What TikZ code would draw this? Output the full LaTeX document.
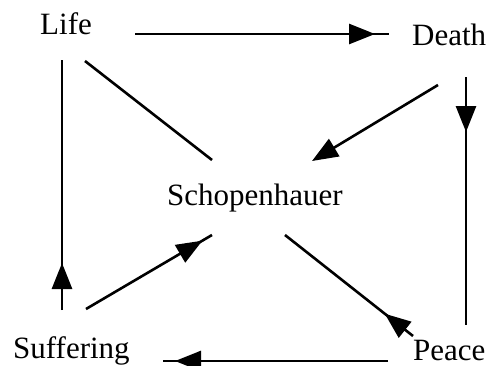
\documentclass[tikz,border=0pt]{standalone}
\usepackage{fontspec}
\setmainfont{Liberation Serif}
\usetikzlibrary{arrows.meta,decorations.markings}
\begin{document}
\begin{tikzpicture}[x=1pt,y=-1pt,
  lbl/.style={anchor=base west,inner sep=0pt,font=\fontsize{31}{36}\selectfont},
  conn/.style={line width=2.6pt},
  tipat/.style={postaction={decorate},decoration={markings,mark=at position #1 with {\arrow{Triangle[length=26pt,width=20pt]}}}},
  endtip/.style={-{Triangle[length=26pt,width=20pt]}}
]
\useasboundingbox (0,0) rectangle (490,365);
% labels
\node[lbl] (life) at (40,34) {Life};
\node[lbl] (death) at (412,45) {Death};
\node[lbl] (scho) at (167,205) {Schopenhauer};
\node[lbl] (suff) at (13,358) {Suffering};
\node[lbl] (peace) at (413,360) {Peace};
% connector ends
\coordinate (lifeE) at (135,34);
\coordinate (deathW) at (389,34);
\coordinate (deathS) at (466,77);
\coordinate (peaceN) at (466,325);
\coordinate (deathSW) at (438,85);
\coordinate (schoNE) at (312,161);
\coordinate (lifeSE) at (85,61);
\coordinate (schoNW) at (212,160);
\coordinate (lifeS) at (62,60);
\coordinate (suffN) at (62,310);
\coordinate (suffNE) at (86,309);
\coordinate (schoSW) at (212,235);
\coordinate (schoSE) at (285,235);
\coordinate (peaceNW) at (413,336);
\coordinate (peaceW) at (388,361);
\coordinate (suffE) at (163,361);
% connectors
\draw[conn,tipat=240pt] (lifeE) -- (deathW);
\draw[conn,tipat=55pt] (deathS) -- (peaceN);
\draw[conn,endtip] (deathSW) -- (schoNE);
\draw[conn] (lifeSE) -- (schoNW);
\draw[conn,tipat=47pt] (suffN) -- (lifeS);
\draw[conn,tipat=135pt] (suffNE) -- (schoSW);
\draw[conn,tipat=36pt] (peaceNW) -- (schoSE);
\draw[conn,tipat=213pt] (peaceW) -- (suffE);
\end{tikzpicture}
\end{document}
